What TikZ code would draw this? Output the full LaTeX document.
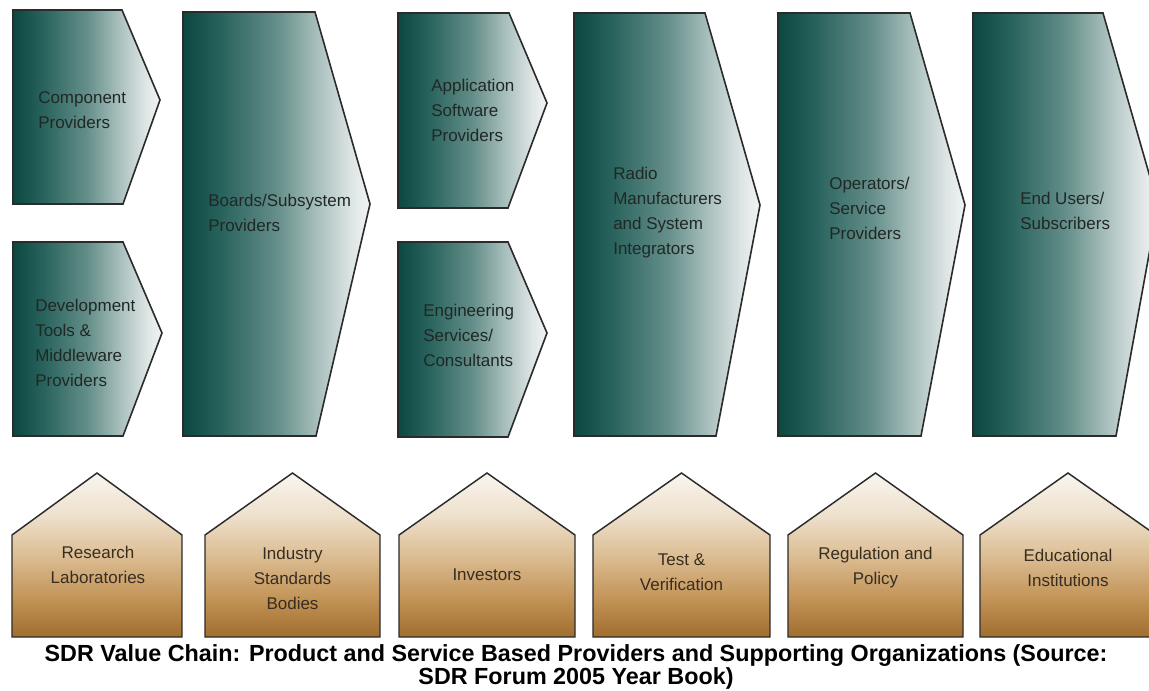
\documentclass[tikz,border=0pt]{standalone}
\usepackage{fontspec}
\setmainfont{Liberation Sans}

% palette
\definecolor{edge}{RGB}{43,43,43}
\definecolor{inkteal}{RGB}{32,40,38}
\definecolor{inkclay}{RGB}{55,45,32}
\definecolor{tealA}{RGB}{10,72,64}
\definecolor{tealB}{RGB}{40,98,92}
\definecolor{tealC}{RGB}{100,142,137}
\definecolor{tealD}{RGB}{175,196,194}
\definecolor{tealE}{RGB}{222,229,229}
\definecolor{tealF}{RGB}{242,244,244}
\definecolor{clayA}{RGB}{160,110,45}
\definecolor{clayB}{RGB}{195,148,88}
\definecolor{clayC}{RGB}{220,190,148}
\definecolor{clayD}{RGB}{238,224,204}
\definecolor{clayE}{RGB}{249,245,239}

% left-to-right fade for the value-chain chevrons
\pgfdeclarehorizontalshading{tealfade}{100bp}{color(0bp)=(tealA); color(25bp)=(tealA);
  color(35bp)=(tealB); color(50bp)=(tealC); color(62bp)=(tealD); color(70bp)=(tealE);
  color(75bp)=(tealF); color(100bp)=(tealF)}
% bottom-to-top fade for the supporting houses
\pgfdeclareverticalshading{clayfade}{100bp}{color(0bp)=(clayA); color(25bp)=(clayA);
  color(37bp)=(clayB); color(50bp)=(clayC); color(62bp)=(clayD); color(75bp)=(clayE); color(100bp)=(clayE)}

\tikzset{
  provider/.style={draw=edge, line width=1.2pt, shade, shading=tealfade},
  support/.style={draw=edge, line width=1.1pt, shade, shading=clayfade},
  role/.style={anchor=north west, align=left, inner sep=0pt, text=inkteal,
    font=\fontsize{12.75pt}{18.75pt}\selectfont},
  org/.style={anchor=center, align=center, inner sep=0pt, text=inkclay,
    font=\fontsize{12.75pt}{18.75pt}\selectfont},
}

\begin{document}
\begin{tikzpicture}[x=0.75pt, y=-0.75pt]
\useasboundingbox (0,0) rectangle (1149,691);
\clip (0,0) rectangle (1149,691);
\fill[white] (0,0) rectangle (1149,691);

% ---- product and service based providers (chevrons) ----
\path[provider] (13,10) -- (122,10) -- (160,100) -- (123,204) -- (13,204) -- cycle;
\path[provider] (13,242) -- (123,242) -- (162,333) -- (123,436) -- (13,436) -- cycle;
\path[provider] (183,12) -- (315,12) -- (370,204) -- (316,436) -- (183,436) -- cycle;
\path[provider] (398,13) -- (509,13) -- (547,103) -- (508,208) -- (398,208) -- cycle;
\path[provider] (398,242) -- (508,242) -- (547,333) -- (508,437) -- (398,437) -- cycle;
\path[provider] (574,13) -- (705,13) -- (760,205) -- (716,436) -- (574,436) -- cycle;
\path[provider] (778,13) -- (910,13) -- (965,205) -- (921,436) -- (778,436) -- cycle;
\path[provider] (973,13) -- (1103,13) -- (1158,205) -- (1116,436) -- (973,436) -- cycle;

\node[role] (comp) at (38,91) {Component\\Providers};
\node[role] (devt) at (35,299) {Development\\Tools \&\\Middleware\\Providers};
\node[role] (board) at (208,194) {Boards/Subsystem\\Providers};
\node[role] (appsw) at (431,79) {Application\\Software\\Providers};
\node[role] (engsv) at (423,304) {Engineering\\Services/\\Consultants};
\node[role] (radio) at (613,167) {Radio\\Manufacturers\\and System\\Integrators};
\node[role] (oper) at (829,177) {Operators/\\Service\\Providers};
\node[role] (users) at (1020,192) {End Users/\\Subscribers};

% ---- supporting organizations (houses) ----
\path[support] (12,637) -- (12,535) -- (97,473) -- (182,535) -- (182,637) -- cycle;
\path[support] (205,637) -- (205,535) -- (292.5,473) -- (380,535) -- (380,637) -- cycle;
\path[support] (399,637) -- (399,535) -- (487,473) -- (575,535) -- (575,637) -- cycle;
\path[support] (593,637) -- (593,535) -- (681.5,473) -- (770,535) -- (770,637) -- cycle;
\path[support] (788,637) -- (788,535) -- (875.5,473) -- (963,535) -- (963,637) -- cycle;
\path[support] (980,637) -- (980,535) -- (1068,473) -- (1156,535) -- (1156,637) -- cycle;

\node[org] (labs) at (98,565) {Research\\Laboratories};
\node[org] (stds) at (292.5,578) {Industry\\Standards\\Bodies};
\node[org] (invest) at (487,575) {Investors};
\node[org] (test) at (681.5,572) {Test \&\\Verification};
\node[org] (policy) at (875.5,568) {Regulation and\\Policy};
\node[org] (edu) at (1068,568) {Educational\\Institutions};

% ---- caption ----
\node[align=center, inner sep=0pt, text=black,
  font=\bfseries\fontsize{17.5pt}{17.25pt}\selectfont] (caption) at (576,667)
  {SDR Value Chain: Product and Service Based Providers and Supporting Organizations (Source:\\
   SDR Forum 2005 Year Book)};
\end{tikzpicture}
\end{document}
